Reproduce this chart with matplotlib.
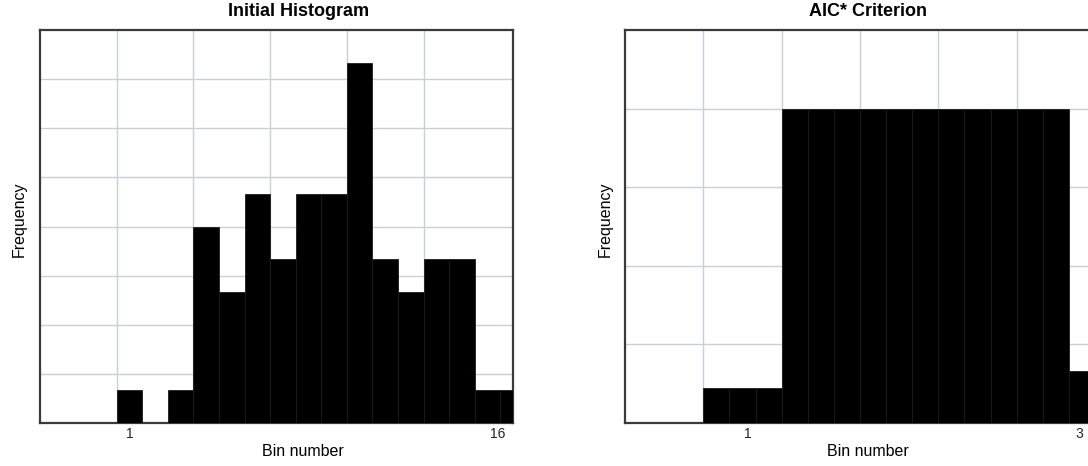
import matplotlib
matplotlib.use("Agg")
import matplotlib.pyplot as plt
import numpy as np

# counts per bin of the initial histogram
bin_numbers = np.arange(1, 17)
bin_counts = [1, 0, 1, 6, 4, 7, 5, 7, 7, 11, 5, 4, 5, 5, 1, 1]

# AIC* merged bins: how many original bins each holds, and its height
aic_group_sizes = [3, 11, 2]
aic_group_heights = [0.67, 6.0, 1.0]

left_tick_pos = [1, 15.4]
left_tick_labels = ["1", "16"]
right_tick_pos = [2.2, 14.9]
right_tick_labels = ["1", "3"]

plt.rcParams["font.family"] = ["Liberation Sans", "DejaVu Sans"]

W, H = 1088, 466
GRID = "#c8cfd6"
SPINE = "#3a3a3a"


def px(x, y):
    return x / W, 1 - y / H


def style_axes(ax, ymax, grid_x, grid_y, tick_pos, tick_labels):
    ax.set_xlim(-2.5, 16)
    ax.set_ylim(0, ymax)
    ax.set_xticks(grid_x, minor=True)
    ax.set_xticks(tick_pos)
    ax.set_xticklabels(tick_labels, fontsize=10, color="#222222")
    ax.set_yticks(grid_y)
    ax.set_yticklabels([])
    ax.tick_params(which="both", length=0, pad=3)
    ax.grid(False)
    ax.grid(True, which="minor", axis="x", color=GRID, lw=1)
    ax.grid(True, which="major", axis="y", color=GRID, lw=1)
    ax.set_axisbelow(True)
    for s in ax.spines.values():
        s.set_color(SPINE)
        s.set_linewidth(1.6)


def main():
    fig = plt.figure(figsize=(W / 100, H / 100), dpi=100)
    bottom = (H - 423) / H
    height = (423 - 30) / H

    ax1 = fig.add_axes([40 / W, bottom, 473 / W, height])
    ax1.bar(bin_numbers, bin_counts, width=1, color="black",
            edgecolor="#1c1c1c", linewidth=0.6, zorder=3)
    style_axes(ax1, 12, [0.5, 3.5, 6.5, 9.5, 12.5],
               np.arange(1.5, 12, 1.5), left_tick_pos, left_tick_labels)

    # right panel runs past the figure edge, as in the screenshot
    ax2 = fig.add_axes([625 / W, bottom, 483 / W, height])
    aic_heights = np.repeat(aic_group_heights, aic_group_sizes)
    ax2.bar(bin_numbers, aic_heights, width=1, color="black",
            edgecolor="#1c1c1c", linewidth=0.6, zorder=3)
    style_axes(ax2, 7.5, [0.5, 3.5, 6.5, 9.5, 12.5, 15.5],
               np.arange(1.5, 7.5, 1.5), right_tick_pos, right_tick_labels)

    # titles and axis labels
    fig.text(*px(299, 11), "Initial Histogram", ha="center", va="center",
             fontsize=13, fontweight="bold")
    fig.text(*px(868, 11), "AIC* Criterion", ha="center", va="center",
             fontsize=13, fontweight="bold")
    fig.text(*px(303, 451), "Bin number", ha="center", va="center", fontsize=11.5)
    fig.text(*px(868, 451), "Bin number", ha="center", va="center", fontsize=11.5)
    fig.text(*px(19, 219), "Frequency", ha="center", va="center",
             rotation=90, fontsize=11.5)
    fig.text(*px(605, 219), "Frequency", ha="center", va="center",
             rotation=90, fontsize=11.5)

    fig.savefig("out.png", dpi=100)


if __name__ == "__main__":
    main()
